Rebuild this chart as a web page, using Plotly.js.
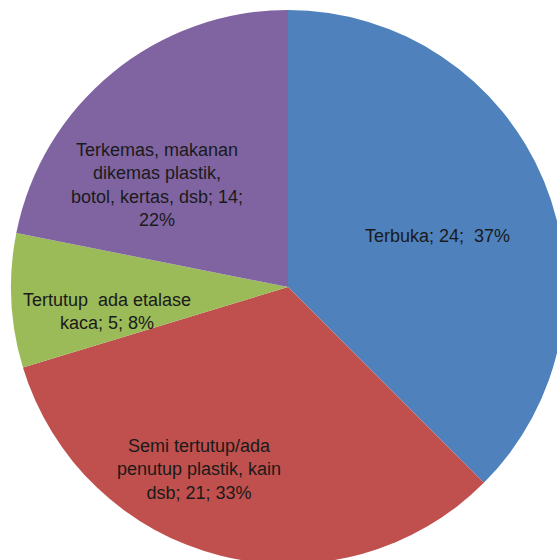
<!DOCTYPE html>
<html>
<head>
<meta charset="utf-8">
<script src="https://cdn.plot.ly/plotly-3.0.1.min.js"></script>
<style>
html,body{margin:0;padding:0;overflow:hidden;background:#fff;width:557px;height:560px;}
#chart{width:600px;height:600px;}
</style>
</head>
<body>
<div id="chart"></div>
<script>
// Data
const categories = ["Terbuka", "Semi tertutup/ada penutup plastik, kain dsb", "Tertutup  ada etalase kaca", "Terkemas, makanan dikemas plastik, botol, kertas, dsb"];
const values = [24, 21, 5, 14];
const percents = ["37%", "33%", "8%", "22%"];
// Label text as wrapped in the reference
const labelLines = [
  ["Terbuka; 24;\u00a0 37%"],
  ["Semi tertutup/ada", "penutup plastik, kain", "dsb; 21; 33%"],
  ["Tertutup\u00a0 ada etalase", "kaca; 5; 8%"],
  ["Terkemas, makanan", "dikemas plastik,", "botol, kertas, dsb; 14;", "22%"]
];
const colors = ["#4F81BD", "#C0504D", "#9BBB59", "#8064A2"];

const W = 600, H = 600;
// label centres in pixels (layout only)
const labelPos = [[437, 236], [199, 469], [107, 311], [157, 185]];

const annotations = labelLines.map((lines, i) => ({
  text: lines.join("<br>"),
  x: labelPos[i][0] / W,
  y: 1 - labelPos[i][1] / H,
  xref: "paper", yref: "paper",
  xanchor: "center", yanchor: "middle",
  align: "center",
  showarrow: false,
  font: {family: "Liberation Sans, Arial, sans-serif", size: 18, color: "#1a1a1a"}
}));

const trace = {
  type: "pie",
  labels: categories,
  values: values,
  sort: false,
  direction: "clockwise",
  rotation: 0,
  marker: {colors: colors, line: {width: 0}},
  textinfo: "none",
  hoverinfo: "none",
  showlegend: false,
  domain: {x: [11 / W, 565 / W], y: [1 - 564 / H, 1 - 10 / H]}
};

Plotly.newPlot("chart", [trace], {
  width: W, height: H,
  margin: {l: 0, r: 0, t: 0, b: 0},
  paper_bgcolor: "#fff",
  showlegend: false,
  annotations: annotations
}, {displayModeBar: false, staticPlot: true});
</script>
</body>
</html>
